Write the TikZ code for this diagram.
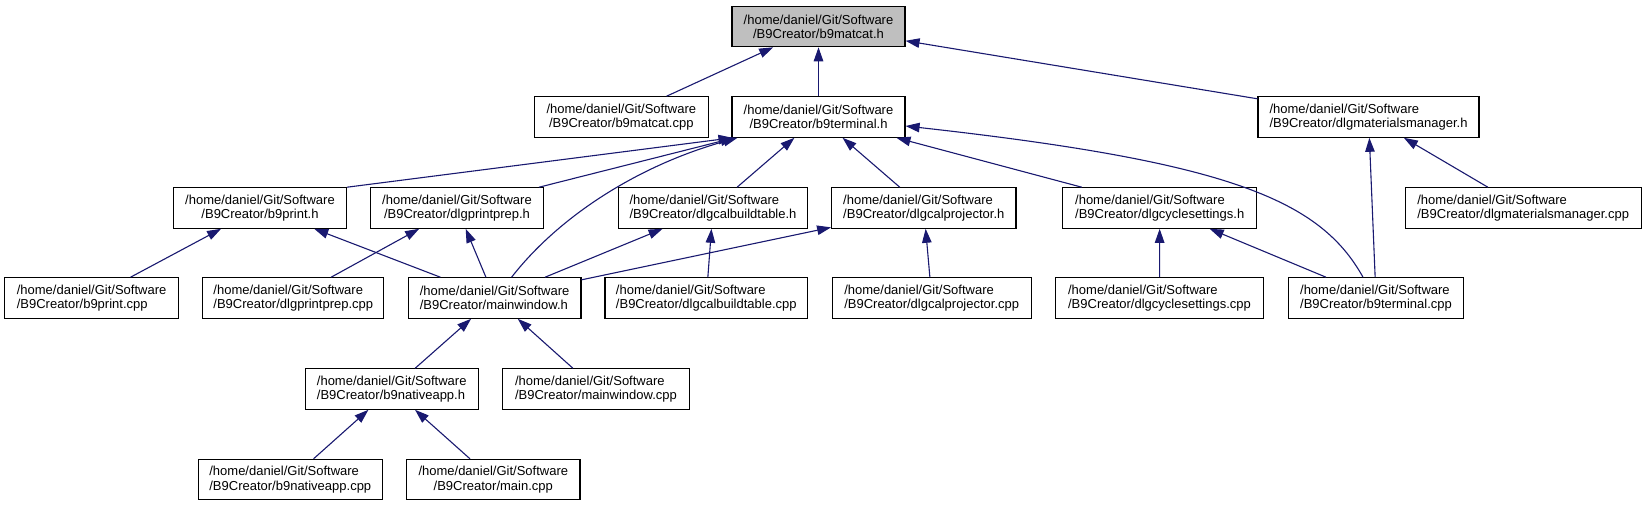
\documentclass[tikz,border=0pt]{standalone}
\usepackage{fontspec}
\setmainfont{Liberation Sans}
\usetikzlibrary{arrows.meta}
\definecolor{edgecol}{HTML}{191970}
\definecolor{hilite}{HTML}{BFBFBF}
\tikzset{
  box/.style={draw=black, line width=1.1pt, fill=white, inner sep=0pt,
    minimum height=40.5pt, text=black, font=\fontsize{13}{14.2}\selectfont},
  lbox/.style={box, align=left},
  cbox/.style={box, align=center},
  edge/.style={draw=edgecol, line width=1.1pt, -{Triangle[length=14pt,width=9.5pt]}},
}
\newcommand{\hp}{/home/daniel/Git/Software\\/B9Creator/}
\begin{document}
\begin{tikzpicture}[x=1pt,y=-1pt]
\useasboundingbox[fill=white] (0,0) rectangle (1645,507);
% row 1
\node[cbox, fill=hilite, minimum width=173pt] (matcat) at (818.5,26.5) {\hp b9matcat.h};
% row 2
\node[cbox, minimum width=174pt] (matcatcpp) at (621.3,117) {\hp b9matcat.cpp};
\node[cbox, minimum width=173pt] (term) at (818.5,117) {\hp b9terminal.h};
\node[lbox, minimum width=221pt] (dmm) at (1368.5,117) {\hp dlgmaterialsmanager.h};
% row 3
\node[cbox, minimum width=173pt] (print) at (260,208) {\hp b9print.h};
\node[cbox, minimum width=173pt] (pprep) at (457,208) {\hp dlgprintprep.h};
\node[lbox, minimum width=189.4pt] (cbt) at (713,208) {\hp dlgcalbuildtable.h};
\node[lbox, minimum width=184.3pt] (cproj) at (923.8,208) {\hp dlgcalprojector.h};
\node[lbox, minimum width=194pt] (cyc) at (1159.7,208) {\hp dlgcyclesettings.h};
\node[lbox, minimum width=236pt] (dmmcpp) at (1523.2,208) {\hp dlgmaterialsmanager.cpp};
% row 4
\node[lbox, minimum width=174pt] (printcpp) at (91.6,298) {\hp b9print.cpp};
\node[lbox, minimum width=181pt] (pprepcpp) at (293.3,298) {\hp dlgprintprep.cpp};
\node[lbox, minimum width=172.7pt] (mw) at (494.6,298) {\hp mainwindow.h};
\node[lbox, minimum width=202.7pt] (cbtcpp) at (706.3,298) {\hp dlgcalbuildtable.cpp};
\node[lbox, minimum width=199pt] (cprojcpp) at (931.7,298) {\hp dlgcalprojector.cpp};
\node[lbox, minimum width=208pt] (cyccpp) at (1159.5,298) {\hp dlgcyclesettings.cpp};
\node[lbox, minimum width=175pt] (termcpp) at (1376,298) {\hp b9terminal.cpp};
% row 5
\node[lbox, minimum width=173.3pt] (nat) at (391.7,389) {\hp b9nativeapp.h};
\node[lbox, minimum width=186.6pt] (mwcpp) at (596,389) {\hp mainwindow.cpp};
% row 6
\node[lbox, minimum width=184pt] (natcpp) at (290.3,479.6) {\hp b9nativeapp.cpp};
\node[cbox, minimum width=173.3pt] (maincpp) at (493.3,479.6) {\hp main.cpp};

% edges (child -> parent)
\draw[edge] (matcatcpp) -- (matcat);
\draw[edge] (term) -- (matcat);
\draw[edge] (dmm) -- (matcat);

\draw[edge] (print.north east) -- ([xshift=1pt]term.south west);
\draw[edge] ([xshift=-5pt]pprep.north east) -- ([xshift=3pt]term.south west);
\draw[edge] ([xshift=17pt]mw.north) .. controls (560,215) and (640,165) .. ([xshift=6pt]term.south west);
\draw[edge] (cbt) -- (term);
\draw[edge] (cproj) -- (term);
\draw[edge] (cyc) -- (term);
\draw[edge] ([xshift=-13pt]termcpp.north) .. controls (1320,200) and (1230,162) .. ([yshift=-9pt]term.east);

\draw[edge] (termcpp) -- (dmm);
\draw[edge] (dmmcpp) -- (dmm);

\draw[edge] (printcpp) -- (print);
\draw[edge] (mw) -- (print);
\draw[edge] (pprepcpp) -- (pprep);
\draw[edge] (mw) -- (pprep);
\draw[edge] (mw) -- (cbt);
\draw[edge] (cbtcpp) -- (cbt);
\draw[edge] (mw) -- (cproj);
\draw[edge] (cprojcpp) -- (cproj);
\draw[edge] (cyccpp) -- (cyc);
\draw[edge] (termcpp) -- (cyc);

\draw[edge] (nat) -- (mw);
\draw[edge] (mwcpp) -- (mw);
\draw[edge] (natcpp) -- (nat);
\draw[edge] (maincpp) -- (nat);
\end{tikzpicture}
\end{document}
